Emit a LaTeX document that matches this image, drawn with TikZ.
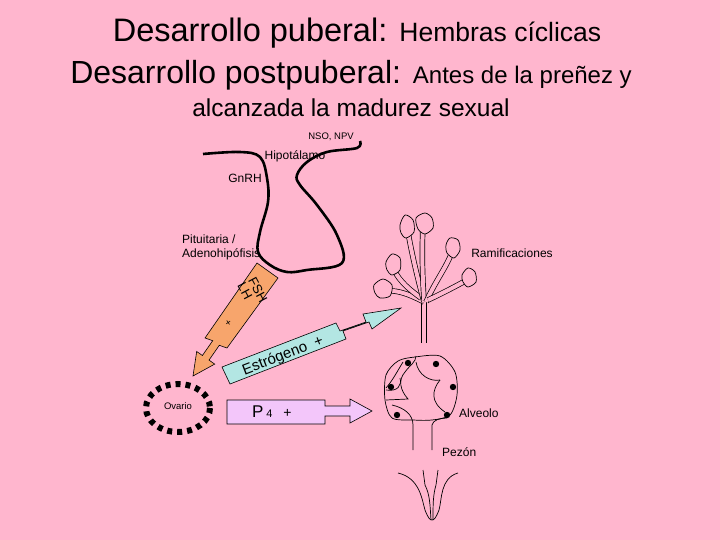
\documentclass[tikz,border=0pt]{standalone}
\usepackage{fontspec}
\setmainfont{Liberation Sans}
\definecolor{bg}{HTML}{FFB6CE}
\definecolor{org}{HTML}{F7A56C}
\definecolor{cya}{HTML}{B3E6E3}
\definecolor{vio}{HTML}{F3C6FA}
\begin{document}
\begin{tikzpicture}[x=1pt,y=-1pt,
  lbl/.style={font=\fontsize{12}{14}\selectfont,inner sep=0pt},
  duct/.style={double=bg,double distance=4pt,line width=0.7pt},
  lobe/.style={fill=bg,draw,line width=0.7pt}]
\fill[bg] (0,0) rectangle (720,540);
\useasboundingbox (0,0) rectangle (720,540);
% titles
\node[inner sep=0pt] (t1) at (357,33) {\fontsize{32.5}{34}\selectfont Desarrollo puberal: \fontsize{26.5}{30}\selectfont Hembras cíclicas};
\node[inner sep=0pt] (t2) at (351,75) {\fontsize{32}{34}\selectfont Desarrollo postpuberal: \fontsize{24}{28}\selectfont Antes de la preñez y};
\node[inner sep=0pt] (t3) at (351,108) {\fontsize{24.5}{28}\selectfont alcanzada la madurez sexual};
% hypothalamus
\draw[line width=2.6pt,line join=round] plot[smooth,tension=0.6] coordinates {(203,154) (240,152) (260,157) (267,178) (268,202) (260,232) (258,252) (270,265) (287,272) (307,270) (342,263) (337,235) (317,205) (300,185) (297,175) (307,162) (327,152) (357,148) (360,141)};
\node[lbl,font=\fontsize{9.5}{10}\selectfont] (nso) at (331,137) {NSO, NPV};
\node[lbl] (hip) at (295,156) {Hipotálamo};
\node[lbl] (gnrh) at (245,178) {GnRH};
\node[lbl,align=left,anchor=west] (pit) at (182,247) {Pituitaria /\\Adenohipófisis};
% orange arrow
\draw[fill=org,line width=0.6pt] (257,263) -- (278,278) -- (227,348) -- (219.3,345.3) -- (209,360.1) -- (214.7,364.1) -- (193,376) -- (196.7,351.5) -- (202.4,355.5) -- (212.7,340.7) -- (205,338) -- cycle;
\node[lbl,rotate=-62,font=\fontsize{13}{11}\selectfont] (fsh) at (258,290) {FSH};
\node[lbl,rotate=-62,font=\fontsize{13}{11}\selectfont] (lh) at (245,291) {LH};
\node[lbl,font=\fontsize{10}{10}\selectfont,rotate=-55] (p1) at (228,323) {+};
% cyan arrow
\draw[fill=cya,line width=0.6pt] (222,367) -- (336,323) -- (340,331) -- (366,322) -- (363,314) -- (401,308) -- (372,329) -- (369,322) -- (343,331) -- (346,339) -- (230,384) -- cycle;
\node[lbl,rotate=21,font=\fontsize{15}{15}\selectfont] (est) at (283,356) {Estrógeno\ \ +};
% P4 arrow
\draw[fill=vio,line width=0.6pt] (227,400) -- (325,400) -- (325,406) -- (350,406) -- (350,399) -- (372,411) -- (350,423) -- (350,416) -- (325,416) -- (325,424) -- (227,424) -- cycle;
\node[lbl,anchor=west] (p4) at (252,412) {\fontsize{17}{17}\selectfont P\,\fontsize{11}{11}\selectfont 4\quad\fontsize{14}{14}\selectfont +};
% ovary
\draw[line width=6pt,dash pattern=on 5pt off 5pt] (178,408) ellipse [x radius=32, y radius=24];
\node[lbl,font=\fontsize{9.5}{10}\selectfont] (ov) at (178,406) {Ovario};
% tree
\draw[duct] (424,343) -- (424,300);
\draw[duct] (424,302) .. controls (405,292) and (395,290) .. (384,291);
\draw[duct] (421,298) .. controls (410,290) and (400,282) .. (394,270);
\draw[duct] (424,302) .. controls (418,280) and (412,255) .. (408,232);
\draw[duct] (424,300) .. controls (422,270) and (422,245) .. (423,225);
\draw[duct] (426,302) .. controls (436,280) and (446,268) .. (452,252);
\draw[duct] (428,300) .. controls (445,292) and (458,285) .. (467,280);
\draw[lobe] plot[smooth cycle] coordinates {(374,285) (383,279) (392,285) (390,296) (380,298) (375,293)};
\draw[lobe] plot[smooth cycle] coordinates {(386,262) (392,254) (400,258) (400,270) (392,275) (387,270)};
\draw[lobe] plot[smooth cycle] coordinates {(400,225) (405,215) (413,220) (414,232) (406,238) (401,233)};
\draw[lobe] plot[smooth cycle] coordinates {(416,218) (425,213) (432,218) (433,228) (425,234) (418,229)};
\draw[lobe] plot[smooth cycle] coordinates {(446,245) (450,238) (458,240) (460,250) (454,258) (447,253)};
\draw[lobe] plot[smooth cycle] coordinates {(462,275) (468,268) (475,272) (476,282) (468,287) (463,282)};
\node[lbl] (ram) at (512,253) {Ramificaciones};
% alveolus
\draw[line width=0.7pt] plot[smooth cycle] coordinates {(415,357) (440,356) (455,372) (457,395) (450,415) (432,420) (413,420) (392,418) (385,400) (386,375) (398,361)};
\draw[line width=0.7pt] (413,450) -- (413,425) .. controls (413,415) and (405,408) .. (392,405);
\draw[line width=0.7pt] (432,450) -- (432,425) .. controls (433,420) and (440,418) .. (447,418);
\draw[line width=0.7pt] (386,400) -- (408,399) .. controls (400,390) and (398,380) .. (405,372) .. controls (410,365) and (416,362) .. (416,356);
\draw[line width=0.7pt] (416,362) .. controls (418,375) and (430,382) .. (440,380);
\draw[line width=0.7pt] (440,380) .. controls (432,390) and (430,402) .. (445,412);
\draw[line width=0.7pt] (386,388) .. controls (393,380) and (398,370) .. (403,362);
\draw[line width=0.7pt] (386,390) .. controls (398,392) and (402,385) .. (400,378);
\foreach \p in {(408,363),(436,364),(391,387),(453,387),(397,415),(447,415)} \fill \p circle (3.2);
\node[lbl,anchor=west] (alv) at (459,413) {Alveolo};
\node[lbl,anchor=west] (pez) at (442,452) {Pezón};
% nipple
\draw[line width=0.7pt] (398,473) .. controls (420,478) and (422,500) .. (425,510) .. controls (428,518) and (430,520) .. (432,520) .. controls (434,520) and (436,518) .. (439,510) .. controls (442,500) and (440,478) .. (458,473);
\draw[line width=0.7pt] (423,470) -- (425,485) .. controls (430,495) and (430,505) .. (431,520);
\draw[line width=0.7pt] (438,470) -- (436,485) .. controls (433,495) and (433,505) .. (433,520);
\end{tikzpicture}
\end{document}
